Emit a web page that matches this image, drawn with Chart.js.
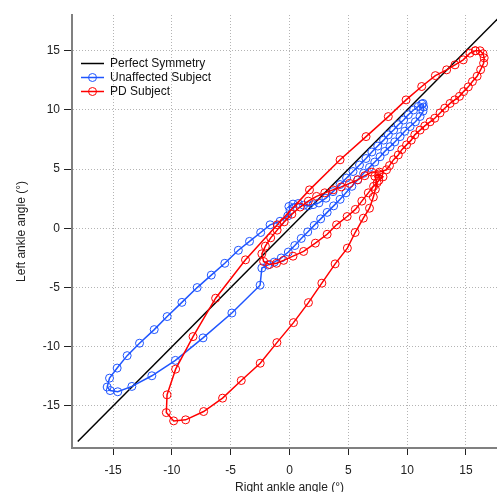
<!DOCTYPE html>
<html>
<head>
<meta charset="utf-8">
<title>Ankle angle symmetry</title>
<script src="https://cdn.jsdelivr.net/npm/chart.js@4.4.1/dist/chart.umd.min.js"></script>
<style>
  html, body { margin: 0; padding: 0; background: #fff; }
  #wrap { width: 497px; height: 492px; }
</style>
</head>
<body>
<div id="wrap"><canvas id="chart" width="497" height="492"></canvas></div>
<script>
// tick labels
const xTicks = [-15, -10, -5, 0, 5, 10, 15];
const yTicks = [-15, -10, -5, 0, 5, 10, 15];

// perfect symmetry line (y = x)
const symX = [-18, 18];
const symY = [-18, 18];

// unaffected subject, one gait cycle (right angle, left angle)
const unaffectedX = [
    11.35, 11.4, 11.35, 11.1, 10.7, 10.25, 9.8, 9.4, 8.95, 8.55, 8.1, 7.7, 7.25, 6.8, 6.3, 5.8, 5.3, 4.8, 4.3, 3.75,
    3.2, 2.65, 2.1, 1.55, 1.0, 0.45, -0.1, -0.7, -1.3, -1.85, -2.35, -2.5, -4.9, -7.35, -9.7, -11.7, -13.4, -14.6, -15.25, -15.5,
    -15.3, -14.65, -13.8, -12.75, -11.5, -10.4, -9.15, -7.85, -6.65, -5.5, -4.35, -3.4, -2.45, -1.65, -0.8, -0.15, 0.05, -0.05, 0.3, 0.75,
    1.2, 1.6, 2.0, 2.5, 3.1, 3.7, 4.3, 4.85, 5.4, 5.95, 6.5, 7.0, 7.5, 8.0, 8.4, 8.85, 9.25, 9.7, 10.1, 10.55,
    10.95, 11.25
];
const unaffectedY = [
    10.55, 10.25, 9.9, 9.45, 9.0, 8.6, 8.2, 7.75, 7.3, 6.9, 6.5, 6.05, 5.6, 5.15, 4.65, 4.1, 3.55, 3.0, 2.45, 1.9,
    1.35, 0.8, 0.25, -0.3, -0.85, -1.45, -2.0, -2.5, -2.85, -3.1, -3.35, -4.8, -7.15, -9.25, -11.15, -12.45, -13.35, -13.8, -13.7, -13.4,
    -12.65, -11.8, -10.75, -9.7, -8.55, -7.45, -6.25, -5.0, -3.95, -2.95, -1.85, -1.1, -0.35, 0.3, 0.6, 1.05, 1.5, 1.85, 2.05, 2.1,
    1.95, 1.9, 2.0, 2.15, 2.55, 3.1, 3.7, 4.25, 4.8, 5.35, 5.9, 6.45, 6.95, 7.45, 7.9, 8.3, 8.75, 9.15, 9.6, 10.0,
    10.3, 10.5
];

// PD subject, one gait cycle
const pdX = [
    15.8, 16.2, 16.45, 16.55, 16.5, 16.25, 15.95, 15.55, 15.2, 14.8, 14.45, 14.05, 13.65, 13.2, 12.8, 12.35, 11.95, 11.5, 11.1, 10.65,
    10.35, 9.95, 9.55, 9.25, 8.85, 8.5, 8.25, 7.65, 7.0, 6.4, 5.8, 5.1, 4.4, 3.7, 3.0, 2.3, 1.6, 0.9, 0.2, -0.45,
    -1.05, -1.6, -2.05, -2.35, -2.2, -1.7, -1.1, -0.5, 0.3, 1.2, 2.2, 3.2, 4.0, 4.9, 5.6, 6.15, 6.7, 7.15, 7.6, 7.95,
    7.6, 7.25, 7.45, 7.3, 7.13, 6.8, 6.28, 5.58, 4.92, 3.88, 2.75, 1.61, 0.34, -1.07, -2.49, -4.1, -5.69, -7.3, -8.83, -9.85,
    -10.47, -10.41, -9.68, -8.2, -6.28, -3.74, -1.04, 1.7, 4.3, 6.51, 8.4, 9.91, 11.24, 12.4, 13.36, 14.07, 14.77, 15.34, 15.8
];
const pdY = [
    15.0, 15.0, 14.75, 14.4, 13.95, 13.4, 12.85, 12.4, 11.95, 11.55, 11.15, 10.85, 10.55, 10.15, 9.75, 9.3, 9.0, 8.65, 8.3, 7.9,
    7.45, 7.05, 6.65, 6.2, 5.8, 5.3, 4.95, 4.75, 4.75, 4.45, 4.1, 3.8, 3.5, 3.25, 3.0, 2.7, 2.3, 1.8, 1.2, 0.55,
    -0.15, -0.8, -1.5, -2.15, -2.8, -3.05, -2.95, -2.7, -2.35, -1.95, -1.25, -0.5, 0.3, 1.0, 1.6, 2.3, 3.0, 3.55, 4.05, 4.35,
    4.6, 4.4, 3.85, 3.3, 2.64, 1.7, 0.86, -0.35, -1.67, -3.0, -4.63, -6.27, -7.96, -9.65, -11.39, -12.85, -14.34, -15.47, -16.17, -16.26,
    -15.56, -14.06, -11.89, -9.14, -5.9, -2.66, 0.3, 3.25, 5.79, 7.75, 9.44, 10.85, 11.98, 12.9, 13.39, 13.81, 14.23, 14.8, 15.0
];

const FONT = '"Liberation Sans", Arial, sans-serif';
const X_TITLE = 'Right ankle angle (°)';
const toPoints = (xs, ys) => xs.map((x, i) => ({ x: x, y: ys[i] }));

// legend sits inside the plot, top-left; x title is drawn here too so it can sit off-centre like the original
const insetLegend = {
    id: 'insetLegend',
    afterDraw(chart) {
        const ctx = chart.ctx;
        ctx.save();
        ctx.font = '12px ' + FONT;
        ctx.textBaseline = 'middle';
        chart.data.datasets.forEach((ds, i) => {
            const y = 63.5 + i * 14;
            ctx.strokeStyle = ds.borderColor;
            ctx.lineWidth = ds.borderWidth;
            ctx.beginPath();
            ctx.moveTo(81, y);
            ctx.lineTo(104, y);
            ctx.stroke();
            if (ds.pointRadius > 0) {
                ctx.lineWidth = ds.pointBorderWidth;
                ctx.beginPath();
                ctx.arc(92.5, y, ds.pointRadius, 0, Math.PI * 2);
                ctx.stroke();
            }
            ctx.fillStyle = '#111';
            ctx.fillText(ds.label, 110, y + 0.5);
        });
        // x axis title
        ctx.fillStyle = '#222';
        ctx.textAlign = 'center';
        ctx.fillText(X_TITLE, chart.scales.x.getPixelForValue(0), 488);
        ctx.restore();
    }
};

const axisCommon = {
    type: 'linear',
    border: { display: true, color: '#808080', width: 2, dash: [1, 2] },
    grid: {
        color: '#b4b4b4',
        lineWidth: 1,
        drawTicks: true,
        tickColor: '#222',
        tickWidth: 1,
        tickBorderDash: []
    }
};

new Chart(document.getElementById('chart'), {
    type: 'scatter',
    data: {
        datasets: [
            {
                label: 'Perfect Symmetry',
                data: toPoints(symX, symY),
                showLine: true,
                borderColor: '#000000',
                borderWidth: 1.5,
                pointRadius: 0,
                order: 2
            },
            {
                label: 'Unaffected Subject',
                data: toPoints(unaffectedX, unaffectedY),
                showLine: true,
                borderColor: '#1f55ff',
                borderWidth: 1.5,
                pointRadius: 4,
                pointBorderWidth: 1,
                pointBackgroundColor: 'rgba(0,0,0,0)',
                pointBorderColor: '#1f55ff',
                order: 1
            },
            {
                label: 'PD Subject',
                data: toPoints(pdX, pdY),
                showLine: true,
                borderColor: '#ff0000',
                borderWidth: 1.5,
                pointRadius: 4,
                pointBorderWidth: 1,
                pointBackgroundColor: 'rgba(0,0,0,0)',
                pointBorderColor: '#ff0000',
                order: 0
            }
        ]
    },
    options: {
        responsive: false,
        animation: false,
        devicePixelRatio: 1,
        layout: { autoPadding: false, padding: { top: 15, right: 0, left: 0, bottom: 0 } },
        plugins: {
            legend: { display: false },
            tooltip: { enabled: false }
        },
        scales: {
            x: {
                ...axisCommon,
                min: -18.49,
                max: 17.64,
                grid: { ...axisCommon.grid, tickLength: 7 },
                ticks: { color: '#222', font: { family: FONT, size: 12 }, padding: 8, maxRotation: 0 },
                afterBuildTicks: (scale) => { scale.ticks = xTicks.map(v => ({ value: v })); },
                afterFit: (scale) => {
                    scale.height = 44;
                    scale.paddingLeft = 0;
                    scale.paddingRight = 0;
                },
                title: { display: false, text: X_TITLE }
            },
            y: {
                ...axisCommon,
                min: -18.55,
                max: 18.02,
                grid: { ...axisCommon.grid, tickLength: 8 },
                ticks: { color: '#222', font: { family: FONT, size: 12 }, padding: 4 },
                afterBuildTicks: (scale) => { scale.ticks = yTicks.map(v => ({ value: v })); },
                afterFit: (scale) => {
                    scale.width = 72;
                    scale.paddingTop = 0;
                    scale.paddingBottom = 0;
                },
                title: {
                    display: true,
                    text: 'Left ankle angle (°)',
                    color: '#222',
                    font: { family: FONT, size: 12 },
                    padding: { top: 14, bottom: 0 }
                }
            }
        }
    },
    plugins: [insetLegend]
});
</script>
</body>
</html>
